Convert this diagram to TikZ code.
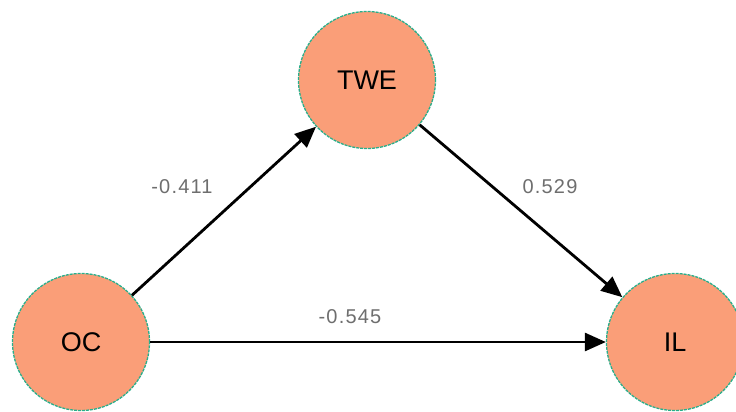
\documentclass[tikz,border=0pt]{standalone}
\usepackage{fontspec}
\setmainfont{Liberation Sans}
\usetikzlibrary{arrows.meta}
\definecolor{nodefill}{RGB}{250,158,120}
\definecolor{nodeline}{RGB}{40,175,140}
\definecolor{lblgray}{RGB}{110,110,110}
\tikzset{
  latent/.style={circle, minimum size=137pt, inner sep=0pt, fill=nodefill,
    draw=nodeline, line width=1.3pt, dash pattern=on 3pt off 1pt,
    font=\fontsize{27}{27}\selectfont},
  path/.style={line width=2.8pt, -{Triangle[length=21pt,width=18pt]}},
  coef/.style={text=lblgray, font=\fontsize{20}{20}\selectfont\addfontfeatures{LetterSpace=6}, inner sep=0pt}
}
\begin{document}
\begin{tikzpicture}[x=1pt,y=-1pt]
\useasboundingbox (0,0) rectangle (736,412);
\node[latent] (TWE) at (367,80) {TWE};
\node[latent] (OC) at (81,342) {OC};
\node[latent] (IL) at (675,342) {IL};
\draw[path] (OC) -- (TWE);
\draw[path] (TWE) -- (IL);
\draw[path] (OC) -- (IL);
\node[coef] (c1) at (182,187) {-0.411};
\node[coef] (c2) at (550,187) {0.529};
\node[coef] (c3) at (350,317) {-0.545};
\end{tikzpicture}
\end{document}
